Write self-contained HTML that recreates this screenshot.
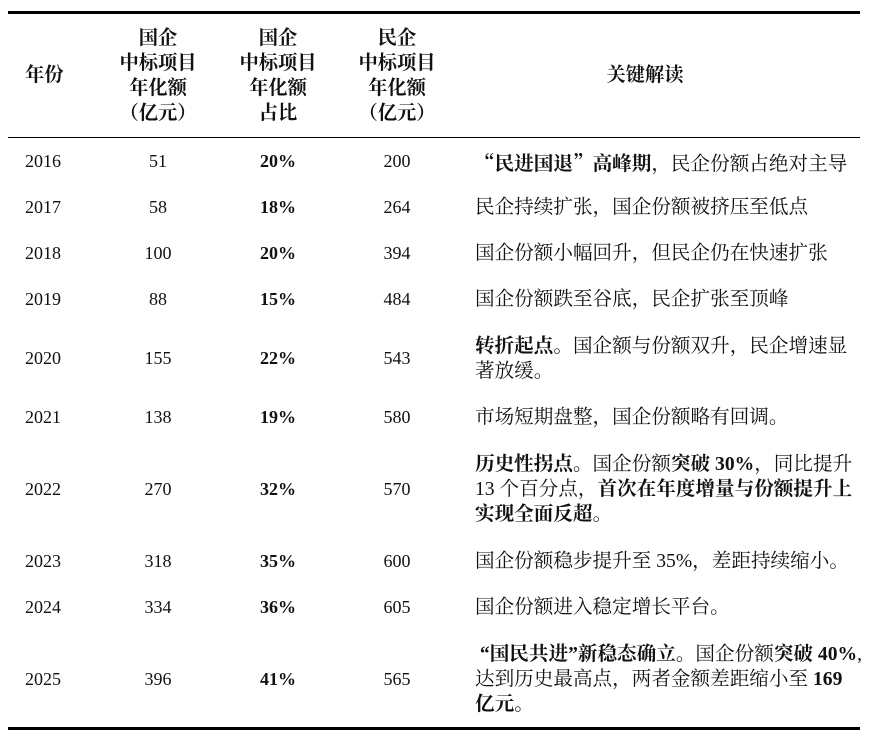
<!DOCTYPE html>
<html><head><meta charset="utf-8"><style>
body{margin:0;background:#fff;width:873px;height:744px;position:relative;overflow:hidden;font-family:"Liberation Serif","Noto Serif CJK SC",serif;font-size:18px;color:#111}
.r{position:absolute;left:8px;width:852px;background:#000}
.c{position:absolute;line-height:25px;white-space:nowrap}
.y{left:25px}
.a{left:98px;width:120px;text-align:center}
.p{left:218px;width:120px;text-align:center;font-weight:bold}
.m{left:337px;width:120px;text-align:center}
.t{left:475px;font-size:19.6px;letter-spacing:0}
.h{font-size:19.3px}
.q{font-family:"Noto Serif CJK SC",serif}
b{font-weight:bold}
</style></head><body>
<div class="r" style="top:11px;height:3px"></div>
<div class="r" style="top:137px;height:1px"></div>
<div class="r" style="top:727px;height:3px"></div>

<div class="c y h" style="top:63px;font-weight:bold">年份</div>
<div class="c a h" style="top:26px;font-weight:bold">国企<br>中标项目<br>年化额<br>（亿元）</div>
<div class="c h" style="left:218px;width:120px;text-align:center;top:26px;font-weight:bold">国企<br>中标项目<br>年化额<br>占比</div>
<div class="c m h" style="top:26px;font-weight:bold">民企<br>中标项目<br>年化额<br>（亿元）</div>
<div class="c h" style="left:475px;width:340px;text-align:center;top:63px;font-weight:bold">关键解读</div>

<div class="c y" style="top:149px">2016</div><div class="c a" style="top:149px">51</div><div class="c p" style="top:149px">20%</div><div class="c m" style="top:149px">200</div><div class="c t" style="top:149px"><b><span class="q">“</span>民进国退<span class="q">”</span>高峰期</b>，民企份额占绝对主导</div>
<div class="c y" style="top:195px">2017</div><div class="c a" style="top:195px">58</div><div class="c p" style="top:195px">18%</div><div class="c m" style="top:195px">264</div><div class="c t" style="top:195px">民企持续扩张，国企份额被挤压至低点</div>
<div class="c y" style="top:241px">2018</div><div class="c a" style="top:241px">100</div><div class="c p" style="top:241px">20%</div><div class="c m" style="top:241px">394</div><div class="c t" style="top:241px">国企份额小幅回升，但民企仍在快速扩张</div>
<div class="c y" style="top:287px">2019</div><div class="c a" style="top:287px">88</div><div class="c p" style="top:287px">15%</div><div class="c m" style="top:287px">484</div><div class="c t" style="top:287px">国企份额跌至谷底，民企扩张至顶峰</div>
<div class="c y" style="top:346px">2020</div><div class="c a" style="top:346px">155</div><div class="c p" style="top:346px">22%</div><div class="c m" style="top:346px">543</div><div class="c t" style="top:334px"><b>转折起点</b>。国企额与份额双升，民企增速显<br>著放缓。</div>
<div class="c y" style="top:405px">2021</div><div class="c a" style="top:405px">138</div><div class="c p" style="top:405px">19%</div><div class="c m" style="top:405px">580</div><div class="c t" style="top:405px">市场短期盘整，国企份额略有回调。</div>
<div class="c y" style="top:477px">2022</div><div class="c a" style="top:477px">270</div><div class="c p" style="top:477px">32%</div><div class="c m" style="top:477px">570</div><div class="c t" style="top:452px"><b>历史性拐点</b>。国企份额<b>突破 30%</b>，同比提升<br>13 个百分点，<b>首次在年度增量与份额提升上</b><br><b>实现全面反超</b>。</div>
<div class="c y" style="top:549px">2023</div><div class="c a" style="top:549px">318</div><div class="c p" style="top:549px">35%</div><div class="c m" style="top:549px">600</div><div class="c t" style="top:549px">国企份额稳步提升至 35%，差距持续缩小。</div>
<div class="c y" style="top:595px">2024</div><div class="c a" style="top:595px">334</div><div class="c p" style="top:595px">36%</div><div class="c m" style="top:595px">605</div><div class="c t" style="top:595px">国企份额进入稳定增长平台。</div>
<div class="c y" style="top:667px">2025</div><div class="c a" style="top:667px">396</div><div class="c p" style="top:667px">41%</div><div class="c m" style="top:667px">565</div><div class="c t" style="top:642px"><b>&nbsp;“国民共进”新稳态确立</b>。国企份额<b>突破 40%</b>,<br>达到历史最高点，两者金额差距缩小至 <b>169</b><br><b>亿元</b>。</div>
</body></html>
